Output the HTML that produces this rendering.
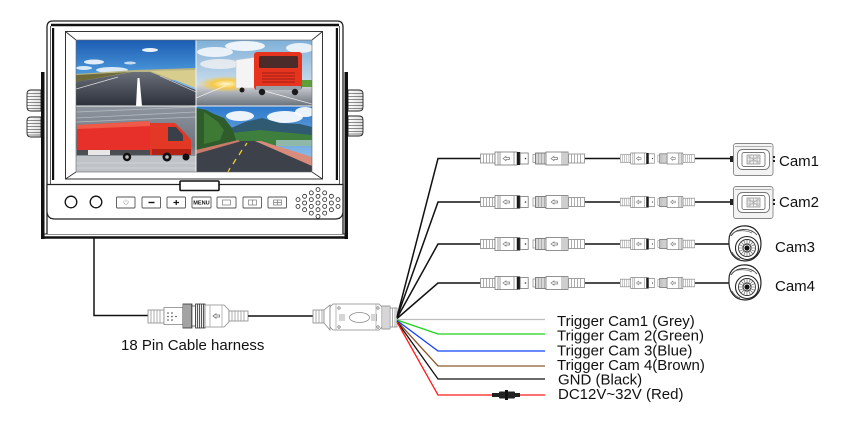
<!DOCTYPE html>
<html><head><meta charset="utf-8"><style>
html,body{margin:0;padding:0;background:#fff;}
svg{display:block;}
text{font-family:"Liberation Sans",Arial,sans-serif;}
</style></head><body>
<svg width="845" height="422" viewBox="0 0 845 422" xmlns="http://www.w3.org/2000/svg">
<defs>
  <linearGradient id="skyTL" x1="0" y1="0" x2="0" y2="1"><stop offset="0" stop-color="#1c5cb2"/><stop offset="0.5" stop-color="#4a97da"/><stop offset="1" stop-color="#cfe6f3"/></linearGradient>
  <linearGradient id="roadTL" x1="0" y1="0" x2="0" y2="1"><stop offset="0" stop-color="#6a6e78"/><stop offset="1" stop-color="#2c303a"/></linearGradient>
  <linearGradient id="skyTR" x1="0" y1="0" x2="0" y2="1"><stop offset="0" stop-color="#7fb0d8"/><stop offset="1" stop-color="#eef1f3"/></linearGradient>
  <linearGradient id="roadTR" x1="0" y1="0" x2="0" y2="1"><stop offset="0" stop-color="#d8dade"/><stop offset="1" stop-color="#6a707a"/></linearGradient>
  <radialGradient id="glow" cx="0.5" cy="0.5" r="0.5"><stop offset="0" stop-color="#fff8d0"/><stop offset="0.5" stop-color="#f5c94a"/><stop offset="1" stop-color="#f5c94a" stop-opacity="0"/></radialGradient>
  <linearGradient id="bgBL" x1="0" y1="0" x2="0" y2="1"><stop offset="0" stop-color="#8e959e"/><stop offset="0.6" stop-color="#6e757e"/><stop offset="1" stop-color="#b9bdc2"/></linearGradient>
  <linearGradient id="skyBR" x1="0" y1="0" x2="0" y2="1"><stop offset="0" stop-color="#2b78cc"/><stop offset="1" stop-color="#a9d0ef"/></linearGradient>
  <linearGradient id="knob" x1="0" y1="0" x2="1" y2="0"><stop offset="0" stop-color="#fff"/><stop offset="1" stop-color="#ddd"/></linearGradient>

  <g id="ga">
    <rect x="0.5" y="-4.5" width="14.5" height="9" fill="#fff" stroke="#888" stroke-width="0.8"/>
    <path d="M3.5,-4.5V4.5M6.5,-4.5V4.5M9.5,-4.5V4.5M12.5,-4.5V4.5" stroke="#999" stroke-width="0.8"/>
    <rect x="15" y="-6.5" width="22" height="13" fill="#fff" stroke="#777" stroke-width="0.8"/>
    <path d="M18,-6.5V6.5M20,-6.5V6.5M34,-6.5V6.5" stroke="#888" stroke-width="0.8"/>
    <path d="M23,0L26,-2.2V-1H29.5V1H26V2.2Z" fill="none" stroke="#777" stroke-width="0.7"/>
    <rect x="37" y="-6.5" width="3.2" height="13" fill="#1a1a1a"/>
    <rect x="40.2" y="-5.5" width="8" height="11" fill="#fff" stroke="#777" stroke-width="0.8"/>
    <circle cx="45.5" cy="0" r="0.8" fill="#333"/>
    <rect x="53" y="-4" width="2.5" height="8" fill="#fff" stroke="#888" stroke-width="0.7"/>
    <rect x="55.5" y="-5.5" width="10.5" height="11" fill="#fff" stroke="#666" stroke-width="0.8"/>
    <path d="M57,-5.5V5.5M58.5,-5.5V5.5M60,-5.5V5.5M61.5,-5.5V5.5M63,-5.5V5.5M64.5,-5.5V5.5" stroke="#777" stroke-width="0.6"/>
    <rect x="66" y="-6.5" width="22" height="13" fill="#fff" stroke="#777" stroke-width="0.8"/>
    <path d="M71,0L74,-2.2V-1H77.5V1H74V2.2Z" fill="none" stroke="#777" stroke-width="0.7"/>
    <path d="M82,-6.5V6.5M84,-6.5V6.5M86,-6.5V6.5" stroke="#888" stroke-width="0.8"/>
    <rect x="88.5" y="-4.5" width="16" height="9" fill="#fff" stroke="#888" stroke-width="0.8"/>
    <path d="M91.5,-4.5V4.5M94.5,-4.5V4.5M97.5,-4.5V4.5M100.5,-4.5V4.5" stroke="#999" stroke-width="0.8"/>
  </g>

  <g id="boxcam">
    <rect x="730" y="-3" width="4" height="6" fill="#222"/>
    <rect x="733.5" y="-15.5" width="39.5" height="32" rx="2.5" fill="#f3f3f3" stroke="#888" stroke-width="0.9"/>
    <path d="M735,-12.5H771.5" stroke="#999" stroke-width="0.8"/>
    <rect x="737.5" y="-9.5" width="32" height="20" rx="5" fill="#fff" stroke="#777" stroke-width="0.9"/>
    <rect x="742" y="-6.5" width="23" height="14" rx="2" fill="#fff" stroke="#777" stroke-width="0.9"/>
    <rect x="747" y="-4" width="13" height="9" fill="#eee" stroke="#888" stroke-width="0.7"/>
    <path d="M747,-1H760M747,2H760M750,-4V5M753.5,-4V5M757,-4V5M748,-3L759,4M748,4L759,-3" stroke="#999" stroke-width="0.5"/>
    <rect x="773" y="-3" width="2" height="2" fill="#222"/>
    <rect x="773" y="1" width="2" height="2" fill="#222"/>
  </g>

  <g id="dome">
    <path d="M731,-4 C731,-14 740,-19 749,-18 C758,-17 763,-9 763,0 C763,10 756,17 747,17 C737,17 730,9 731,-4Z" fill="#fff" stroke="#222" stroke-width="1.2"/>
    <path d="M733,-8 C738,-16 752,-17 759,-9" fill="none" stroke="#444" stroke-width="0.9"/>
    <path d="M735,-11 C740,-14 748,-14 754,-11" fill="none" stroke="#666" stroke-width="0.7"/>
    <circle cx="749" cy="4" r="11.5" fill="#fff" stroke="#222" stroke-width="1.1"/>
    <circle cx="749" cy="4" r="8.5" fill="#fff" stroke="#333" stroke-width="0.9"/>
    <path d="M749,-4.5V12.5M740.5,4H757.5M743,-2L755,10M755,-2L743,10M745.5,-4L752.5,12M752.5,-4L745.5,12M741,0.5L757,7.5M741,7.5L757,0.5" stroke="#555" stroke-width="0.6"/>
    <circle cx="749" cy="4" r="4" fill="#fff" stroke="#222" stroke-width="0.9"/>
    <circle cx="749" cy="4" r="2.6" fill="#111"/>
    <path d="M734,8 C736,12 739,14 742,15" fill="none" stroke="#444" stroke-width="0.8"/>
  </g>

  <clipPath id="cTL"><rect x="76" y="40" width="120" height="66"/></clipPath>
  <clipPath id="cTR"><rect x="196" y="40" width="116" height="66"/></clipPath>
  <clipPath id="cBL"><rect x="76" y="106" width="120" height="66"/></clipPath>
  <clipPath id="cBR"><rect x="196" y="106" width="116" height="66"/></clipPath>
</defs>

<rect width="845" height="422" fill="#fff"/>

<!-- ===== Monitor ===== -->
<g stroke="#222" stroke-width="0.9">
  <path d="M41,90H31Q27,90 27,94V107Q27,111 31,111H41Z" fill="url(#knob)"/>
  <path d="M27,93.5H41M27,96.5H41M27,99.5H41M27,102.5H41M27,105.5H41M27,108.5H41" stroke-width="0.6"/>
  <path d="M41,117H31Q27,117 27,121V133Q27,137 31,137H41Z" fill="url(#knob)"/>
  <path d="M27,120.5H41M27,123.5H41M27,126.5H41M27,129.5H41M27,132.5H41M27,135H41" stroke-width="0.6"/>
  <path d="M348,90H359Q363,90 363,94V107Q363,111 359,111H348Z" fill="url(#knob)"/>
  <path d="M348,93.5H363M348,96.5H363M348,99.5H363M348,102.5H363M348,105.5H363M348,108.5H363" stroke-width="0.6"/>
  <path d="M348,116H359Q363,116 363,120V132Q363,136 359,136H348Z" fill="url(#knob)"/>
  <path d="M348,119.5H363M348,122.5H363M348,125.5H363M348,128.5H363M348,131.5H363M348,134H363" stroke-width="0.6"/>
</g>
<rect x="41" y="72" width="3.5" height="167" fill="#111"/>
<rect x="344.5" y="72" width="3.5" height="167" fill="#111"/>
<path d="M44.5,234H344.5" stroke="#222" stroke-width="1"/>
<path d="M41,237.5H348" stroke="#111" stroke-width="2.5"/>
<path d="M47,234V27Q47,21 53,21H337Q343,21 343,27V234" fill="#fff" stroke="#222" stroke-width="1.3"/>
<path d="M51,25H339" stroke="#111" stroke-width="2.6"/>
<path d="M50.5,26V219M339.5,26V219" stroke="#333" stroke-width="0.8"/>
<rect x="52" y="28" width="2.2" height="152" fill="#111"/>
<rect x="335.8" y="28" width="2.2" height="152" fill="#111"/>
<rect x="65.5" y="31.5" width="257" height="147.5" fill="#fff" stroke="#333" stroke-width="1"/>
<path d="M65.5,31.5L76,40M322.5,31.5L312,40M65.5,179L76,172M322.5,179L312,172" stroke="#333" stroke-width="0.9"/>

<g clip-path="url(#cTL)">
  <rect x="76" y="40" width="120" height="66" fill="url(#skyTL)"/>
  <ellipse cx="94" cy="62" rx="10" ry="2.5" fill="#fff" opacity="0.85"/>
  <ellipse cx="150" cy="50" rx="8" ry="2" fill="#fff" opacity="0.9"/>
  <ellipse cx="112" cy="70" rx="16" ry="3" fill="#fff" opacity="0.8"/>
  <ellipse cx="84" cy="68" rx="8" ry="2" fill="#fff" opacity="0.8"/>
  <ellipse cx="130" cy="63" rx="6" ry="1.5" fill="#fff" opacity="0.7"/>
  <polygon points="76,74 135,70 196,68 196,80 76,80" fill="#b9b483"/>
  <polygon points="150,71 196,70 196,88" fill="#d8cd8c"/>
  <polygon points="76,75 130,72 76,82" fill="#6d6a3c"/>
  <polygon points="76,82 132,72 150,72 196,90 196,106 76,106" fill="url(#roadTL)"/>
  <polygon points="137.5,78 139.5,78 142,106 136,106" fill="#fff"/>
  <path d="M76,89L118,77" stroke="#ddd" stroke-width="0.8"/>
  <path d="M160,76L196,92" stroke="#ddd" stroke-width="0.6"/>
</g>
<g clip-path="url(#cTR)">
  <rect x="196" y="40" width="116" height="66" fill="url(#skyTR)"/>
  <ellipse cx="215" cy="52" rx="18" ry="5" fill="#fff" opacity="0.8"/>
  <ellipse cx="245" cy="46" rx="20" ry="5" fill="#fff" opacity="0.85"/>
  <ellipse cx="300" cy="48" rx="14" ry="5" fill="#fff" opacity="0.8"/>
  <ellipse cx="220" cy="64" rx="20" ry="5" fill="#f2f2f2" opacity="0.8"/>
  <rect x="196" y="84" width="116" height="22" fill="url(#roadTR)"/>
  <ellipse cx="226" cy="84" rx="28" ry="8" fill="url(#glow)"/>
  <rect x="292" y="80" width="20" height="7" fill="#5e9f3c"/>
  <path d="M196,98L225,86M250,87L312,104" stroke="#fff" stroke-width="0.8" opacity="0.8"/>
  <rect x="236" y="60" width="22" height="28" fill="#eeeeee"/>
  <polygon points="236,60 258,57 258,88 236,88" fill="#f4f4f4" stroke="#c9c9c9" stroke-width="0.5"/>
  <rect x="254" y="52" width="48" height="38" rx="3" fill="#e6341f"/>
  <rect x="259" y="56" width="39" height="12" rx="1.5" fill="#4c2b2b"/>
  <path d="M262,73H295M262,76H295M262,79H295M262,82H295" stroke="#9e1e12" stroke-width="1"/>
  <rect x="256" y="86" width="45" height="4" fill="#9aa0a8"/>
  <circle cx="262" cy="92" r="3.2" fill="#1a1a1a"/>
  <circle cx="295" cy="92" r="3.2" fill="#1a1a1a"/>
  <circle cx="242" cy="90" r="2.5" fill="#1a1a1a"/>
</g>
<g clip-path="url(#cBL)">
  <rect x="76" y="106" width="120" height="66" fill="url(#bgBL)"/>
  <path d="M76,112L196,107M76,118L196,112M76,122L196,117" stroke="#b4bac0" stroke-width="0.8"/>
  <rect x="76" y="156" width="120" height="16" fill="#bfc3c7"/>
  <path d="M76,163H196M76,168H196" stroke="#d6d9dc" stroke-width="0.7"/>
  <polygon points="77,125 150,121 150,150 77,151" fill="#e8302a"/>
  <polygon points="77,125 150,121 150,126 77,129" fill="#f05a48"/>
  <rect x="77" y="150" width="73" height="5" fill="#4a4d52"/>
  <rect x="88" y="150" width="22" height="5" fill="#e8e8e8"/>
  <path d="M150,123H175L185,133L191,140V155H150Z" fill="#e33826"/>
  <path d="M168,127H176L183,135V141H168Z" fill="#3b3f47"/>
  <rect x="152" y="149" width="39" height="6" fill="#b42216"/>
  <circle cx="127" cy="157" r="4.2" fill="#111"/>
  <circle cx="127" cy="157" r="1.8" fill="#bbb"/>
  <circle cx="167" cy="157" r="4.5" fill="#111"/>
  <circle cx="167" cy="157" r="1.8" fill="#bbb"/>
  <circle cx="186" cy="157" r="3.5" fill="#111"/>
</g>
<g clip-path="url(#cBR)">
  <rect x="196" y="106" width="116" height="66" fill="url(#skyBR)"/>
  <ellipse cx="240" cy="116" rx="14" ry="5" fill="#fff" opacity="0.9"/>
  <ellipse cx="285" cy="117" rx="18" ry="6" fill="#fff" opacity="0.9"/>
  <ellipse cx="305" cy="112" rx="10" ry="5" fill="#fff" opacity="0.9"/>
  <polygon points="222,132 245,122 262,118 280,123 300,124 312,127 312,142 222,142" fill="#2f5a72"/>
  <polygon points="222,134 260,130 312,135 312,146 222,146" fill="#3f7f3e"/>
  <polygon points="196,108 206,110 214,114 224,118 232,128 236,140 232,152 196,155" fill="#2e5c2a"/>
  <polygon points="204,112 210,116 218,122 224,130 220,140 204,144" fill="#3f7a34"/>
  <rect x="276" y="140" width="36" height="6" fill="#8fb8a8"/>
  <polygon points="196,153 240,141 255,141 312,164 312,172 196,172" fill="#3c414a"/>
  <polygon points="255,141 261,141 312,157 312,166" fill="#d98c7c"/>
  <polygon points="196,150 238,140 240,141.5 196,154" fill="#c97a6a"/>
  <path d="M247,143L245,146M242,150L239,155M236,159L233,164M230,168L228,172" stroke="#f2cc2a" stroke-width="1.3"/>
</g>
<path d="M196,40V172M76,106H312" stroke="#f4f4f4" stroke-width="1"/>
<rect x="76" y="40" width="236" height="132" fill="none" stroke="#666" stroke-width="0.6"/>

<path d="M47,184.5H343V211Q343,219 335,219H55Q47,219 47,211Z" fill="#fff" stroke="#222" stroke-width="1.2"/>
<rect x="180" y="181" width="39" height="9.5" rx="1" fill="#fff" stroke="#111" stroke-width="1.6"/>
<circle cx="71" cy="202" r="5.8" fill="#fff" stroke="#111" stroke-width="1.3"/>
<circle cx="96" cy="202" r="5.8" fill="#fff" stroke="#111" stroke-width="1.3"/>
<g fill="#fff" stroke="#555" stroke-width="0.9">
  <rect x="116.5" y="197" width="18.5" height="11" rx="1"/>
  <rect x="142" y="197" width="18.5" height="11" rx="1"/>
  <rect x="167" y="197" width="18.5" height="11" rx="1"/>
  <rect x="192" y="197" width="19" height="11" rx="1"/>
  <rect x="217" y="197" width="19" height="11" rx="1"/>
  <rect x="243" y="197" width="18.5" height="11" rx="1"/>
  <rect x="268" y="197" width="18.5" height="11" rx="1"/>
</g>
<path d="M124.3,200.6A2.2,2.2 0 1 0 127.7,200.6M126,199.5V202" fill="none" stroke="#999" stroke-width="0.6"/>
<path d="M148.5,202.5H154.5" stroke="#111" stroke-width="1.4"/>
<path d="M173.5,202.5H179M176.25,200V205" stroke="#111" stroke-width="1.2"/>
<text x="201.5" y="204.5" font-size="5.6" font-weight="bold" text-anchor="middle" fill="#111">MENU</text>
<rect x="222.5" y="200" width="8" height="5" fill="none" stroke="#777" stroke-width="0.7"/>
<rect x="248.5" y="200" width="8" height="5" fill="none" stroke="#777" stroke-width="0.7"/>
<path d="M252.5,200V205" stroke="#777" stroke-width="0.7"/>
<rect x="273.5" y="200" width="8" height="5" fill="none" stroke="#777" stroke-width="0.7"/>
<path d="M277.5,200V205M273.5,202.5H281.5" stroke="#777" stroke-width="0.7"/>
<g fill="#fff" stroke="#222" stroke-width="0.8">
  <circle cx="298" cy="199.6" r="2"/><circle cx="298" cy="206.4" r="2"/>
  <circle cx="304.6" cy="196.3" r="2"/><circle cx="304.6" cy="203" r="2"/><circle cx="304.6" cy="209.7" r="2"/>
  <circle cx="311.3" cy="192.9" r="2"/><circle cx="311.3" cy="199.6" r="2"/><circle cx="311.3" cy="206.4" r="2"/><circle cx="311.3" cy="213.1" r="2"/>
  <circle cx="318" cy="189.6" r="2"/><circle cx="318" cy="196.3" r="2"/><circle cx="318" cy="203" r="2"/><circle cx="318" cy="209.7" r="2"/><circle cx="318" cy="216.4" r="2"/>
  <circle cx="324.7" cy="192.9" r="2"/><circle cx="324.7" cy="199.6" r="2"/><circle cx="324.7" cy="206.4" r="2"/><circle cx="324.7" cy="213.1" r="2"/>
  <circle cx="331.4" cy="196.3" r="2"/><circle cx="331.4" cy="203" r="2"/><circle cx="331.4" cy="209.7" r="2"/>
  <circle cx="338" cy="199.6" r="2"/><circle cx="338" cy="206.4" r="2"/>
</g>

<path d="M94,238V315.5H148" fill="none" stroke="#111" stroke-width="1.5"/>
<g stroke="#888" stroke-width="0.8" fill="#fff">
  <rect x="148" y="310" width="16" height="13"/>
  <path d="M151,310V323M154,310V323M157,310V323M160,310V323" stroke="#999"/>
  <rect x="164" y="307.5" width="19" height="17"/>
  <rect x="183" y="304" width="9" height="24" fill="#eee" stroke="#333"/>
  <path d="M185,304V328M187,304V328M189,304V328M191,304V328" stroke="#333"/>
  <rect x="192" y="306" width="3.5" height="20" fill="#fff" stroke="#555"/>
  <rect x="195.5" y="304" width="9.5" height="24" fill="#eee" stroke="#333"/>
  <path d="M197.5,304V328M199.5,304V328M201.5,304V328M203.5,304V328" stroke="#333"/>
  <path d="M205,305H224L229,310V322L224,327H205Z"/>
  <path d="M210,305V327M222,305V327" stroke="#aaa"/>
  <path d="M213,316L216,313.8V315H219.5V317H216V318.2Z" stroke="#777"/>
  <rect x="229" y="311" width="19" height="10"/>
  <path d="M232,311V321M235,311V321M238,311V321M241,311V321M244,311V321" stroke="#999"/>
</g>
<g fill="#444"><circle cx="168" cy="313" r="0.8"/><circle cx="172" cy="313" r="0.8"/><circle cx="168" cy="316.5" r="0.8"/><circle cx="172" cy="316.5" r="0.8"/><circle cx="168" cy="320" r="0.8"/><circle cx="172" cy="320" r="0.8"/><circle cx="176" cy="316.5" r="0.8"/></g>
<path d="M248,316H313" stroke="#111" stroke-width="1.5"/>
<g stroke="#888" stroke-width="0.8" fill="#fff">
  <rect x="313" y="310" width="11" height="13"/>
  <path d="M316,310V323M319,310V323M322,310V323" stroke="#999"/>
  <path d="M324,310L330,305V330L324,323Z"/>
  <path d="M333,304H379L382,307V327L379,330H333L330,327V307Z"/>
  <path d="M336,304V330M376,304V330" stroke="#aaa"/>
  <ellipse cx="359.5" cy="317.5" rx="10" ry="5"/>
  <path d="M340,314V321M342,314V321M344,314V321M374,314V321M376.5,314V321M372,314V321" stroke="#999"/>
  <path d="M339,306.5L340.5,308L339,309.5L337.5,308Z M339,325.5L340.5,327L339,328.5L337.5,327Z M378,306.5L379.5,308L378,309.5L376.5,308Z M378,325.5L379.5,327L378,328.5L376.5,327Z" stroke="#888"/>
  <rect x="382" y="306" width="8" height="23"/>
  <path d="M384,306V329M386,306V329M388,306V329" stroke="#999"/>
  <rect x="390" y="308" width="7" height="19"/>
  <path d="M392.5,308V327M395,308V327" stroke="#999"/>
</g>

<g fill="none" stroke="#111" stroke-width="1.5">
  <path d="M397,317L438,158.5H481"/>
  <path d="M397,317.5L438,202H481"/>
  <path d="M397,318L438,244H481"/>
  <path d="M397,318.5L438,283H481"/>
  <path d="M585,158.5H620M695,158.5H731"/>
  <path d="M585,202H620M695,202H731"/>
  <path d="M585,244H620M695,244H731"/>
  <path d="M585,283H620M695,283H731"/>
</g>
<use href="#ga" x="480" y="158.5"/>
<use href="#ga" x="480" y="202"/>
<use href="#ga" x="480" y="244"/>
<use href="#ga" x="480" y="283"/>
<use href="#ga" transform="translate(620,158.5) scale(0.714,0.85)"/>
<use href="#ga" transform="translate(620,202) scale(0.714,0.85)"/>
<use href="#ga" transform="translate(620,244) scale(0.714,0.85)"/>
<use href="#ga" transform="translate(620,283) scale(0.714,0.85)"/>
<use href="#boxcam" x="0" y="159"/>
<use href="#boxcam" x="0" y="202"/>
<use href="#dome" x="-2" y="244"/>
<use href="#dome" x="-2" y="283"/>
<g font-size="15" fill="#111">
  <text x="779" y="166">Cam1</text>
  <text x="779" y="207">Cam2</text>
  <text x="775" y="252">Cam3</text>
  <text x="775" y="291">Cam4</text>
</g>

<g fill="none" stroke-width="1.3">
  <path d="M397,319.5H545" stroke="#bdbdbd"/>
  <path d="M397,320L438,334H545" stroke="#19d319"/>
  <path d="M397,320.5L438,351H545" stroke="#1040ff"/>
  <path d="M397,321L438,366H545" stroke="#8b5a2b"/>
  <path d="M397,321.5L438,379H545" stroke="#111"/>
  <path d="M397,322L438,395H545" stroke="#ff1a1a"/>
</g>
<rect x="492" y="393" width="28" height="4" fill="#222"/>
<rect x="499" y="391.5" width="16" height="7" rx="1" fill="#222"/>
<rect x="505" y="390" width="3" height="10" fill="#111"/>

<g font-size="15" fill="#111">
  <text x="557" y="326">Trigger Cam1 (Grey)</text>
  <text x="557" y="340.5">Trigger Cam 2(Green)</text>
  <text x="557" y="355.5">Trigger Cam 3(Blue)</text>
  <text x="557" y="370">Trigger Cam 4(Brown)</text>
  <text x="558" y="384.5">GND (Black)</text>
  <text x="558" y="399">DC12V~32V (Red)</text>
  <text x="121" y="350">18 Pin Cable harness</text>
</g>
</svg>
</body></html>
